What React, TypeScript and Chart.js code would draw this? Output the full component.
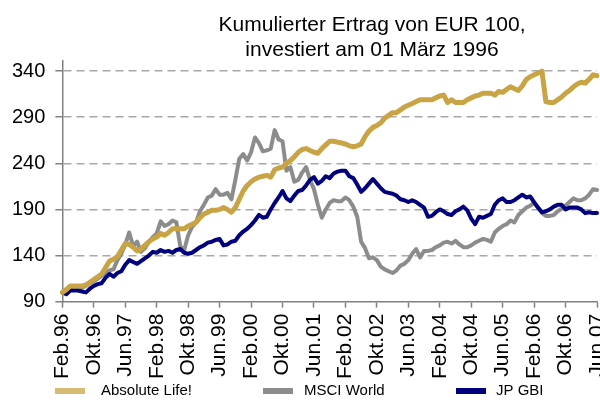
import React, { useEffect, useRef } from 'react';
import { Chart, registerables } from 'chart.js';

Chart.register(...registerables);

const MONTHS = ['Jan', 'Feb', 'Mär', 'Apr', 'Mai', 'Jun', 'Jul', 'Aug', 'Sep', 'Okt', 'Nov', 'Dez'];
const START_MONTH = 1; // Feb
const START_YEAR = 1996;
const LABEL_EVERY = 8;

const titleLines = ['Kumulierter Ertrag von EUR 100,', 'investiert am 01 März 1996'];
const seriesNames = ['Absolute Life!', 'MSCI World', 'JP GBI'];
const yTicks = [90, 140, 190, 240, 290, 340];

const absoluteLife = [
  100, 103, 107, 107, 107, 107, 108, 111, 114, 117,
  120, 127, 134, 136, 139, 146, 153, 152, 149, 145,
  147, 151, 155, 158, 160, 164, 162, 165, 169, 169,
  169, 169, 172, 174, 176, 181, 185, 187, 189, 189,
  190, 192, 190, 187, 192, 201, 210, 216, 220, 223,
  225, 226, 227, 225, 233, 235, 236, 240, 243, 247,
  252, 255, 256, 254, 252, 251, 256, 260, 264, 264,
  263, 262, 261, 259, 258, 259, 261, 269, 275, 279,
  281, 284, 289, 292, 295, 295, 298, 301, 303, 305,
  307, 309, 309, 309, 309, 311, 313, 314, 306, 309,
  306, 306, 306, 309, 311, 313, 314, 316, 316, 316,
  314, 318, 317, 320, 323, 321, 319, 324, 331, 334,
  336, 338, 340, 307, 306, 306, 309, 312, 316, 319,
  323, 326, 328, 327, 331, 336, 335,
];

const msciWorld = [
  100, 102, 105, 106, 106, 105, 107, 110, 112, 115,
  118, 121, 124, 125, 135, 142, 152, 165, 150, 155,
  144, 148, 155, 160, 164, 177, 172, 174, 178, 176,
  150, 146, 162, 171, 176, 188, 195, 203, 205, 212,
  206, 206, 208, 201, 222, 245, 250, 243, 252, 268,
  262, 253, 254, 256, 276, 266, 264, 232, 236, 220,
  222, 230, 236, 222, 212, 195, 181, 190, 197, 200,
  199, 199, 203, 200, 193, 182, 155, 148, 137, 138,
  135, 128, 125, 123, 121, 124, 129, 131, 135, 142,
  147, 138, 145, 145, 146, 149, 151, 154, 155, 153,
  156, 152, 149, 149, 151, 154, 156, 158, 157, 155,
  165, 169, 172, 174, 178, 176, 184, 188, 192, 194,
  197, 192, 186, 183, 183, 184, 188, 191, 194, 198,
  202, 200, 200, 202, 206, 212, 211,
];

const jpGbi = [
  100, 98, 102, 102, 102, 101, 100, 104, 107, 109,
  110, 116, 120, 117, 121, 123, 130, 135, 133, 131,
  134, 137, 140, 144, 143, 146, 144, 145, 143, 146,
  147, 143, 142, 143, 146, 149, 151, 154, 155, 157,
  158, 151, 152, 155, 156, 162, 166, 169, 173, 178,
  184, 181, 182, 190, 197, 203, 210, 202, 199, 205,
  210, 211, 216, 222, 225, 218, 221, 226, 224, 229,
  231, 232, 232, 226, 224, 217, 209, 213, 218, 223,
  218, 213, 209, 208, 207, 205, 201, 200, 198, 200,
  198, 195, 192, 182, 183, 187, 190, 188, 185, 184,
  188, 190, 193, 189, 180, 174, 182, 181, 183, 185,
  195, 200, 202, 198, 198, 200, 203, 206, 203, 204,
  198, 192, 187, 188, 190, 193, 195, 195, 190, 192,
  192, 192, 190, 186, 187, 186, 186,
];

const categories = absoluteLife.map((_, i) => {
  const k = START_MONTH + i;
  const m = k % 12;
  const y = START_YEAR + Math.floor(k / 12);
  return `${MONTHS[m]}.${String(y % 100).padStart(2, '0')}`;
});

const FONT = '"Liberation Sans", Arial, sans-serif';
const lineColors = ['#C9A445', '#8C8C8C', '#00007F'];
const legendColors = ['#D7BB72', '#8C8C8C', '#00007F'];
const lineWidths = [5, 4, 4];
const drawOrder = [0, 2, 1];
const legendPos = [
  { bx: 55, tx: 101 },
  { bx: 263, tx: 304 },
  { bx: 456, tx: 496 },
];

const overlayPlugin = {
  id: 'overlay',
  afterDraw(chart: any) {
    const ctx = chart.ctx;
    ctx.save();
    ctx.fillStyle = '#000';
    ctx.font = `21px ${FONT}`;
    ctx.textAlign = 'center';
    ctx.textBaseline = 'alphabetic';
    titleLines.forEach((t, i) => ctx.fillText(t, 372, 31 + i * 25));

    ctx.font = `15px ${FONT}`;
    ctx.textAlign = 'left';
    ctx.textBaseline = 'middle';
    const ly = 391;
    seriesNames.forEach((name, i) => {
      const p = legendPos[i];
      ctx.fillStyle = legendColors[i];
      ctx.fillRect(p.bx, ly - 3, 30, 6);
      ctx.fillStyle = '#000';
      ctx.fillText(name, p.tx, ly);
    });
    ctx.restore();
  },
};

export default function App() {
  const ref = useRef<HTMLCanvasElement | null>(null);

  useEffect(() => {
    if (!ref.current) return;
    const seriesData = [absoluteLife, msciWorld, jpGbi];
    const chart = new Chart(ref.current, {
      type: 'line',
      data: {
        labels: categories,
        datasets: seriesNames.map((name, i) => ({
          label: name,
          data: seriesData[i],
          borderColor: lineColors[i],
          backgroundColor: lineColors[i],
          borderWidth: lineWidths[i],
          pointRadius: 0,
          tension: 0,
          fill: false,
          order: drawOrder[i],
          borderJoinStyle: 'round' as const,
          borderCapStyle: 'round' as const,
        })),
      },
      options: {
        responsive: false,
        animation: false,
        layout: { padding: { left: 2, right: 0, top: 61, bottom: 16 } },
        plugins: {
          legend: { display: false },
          title: { display: false },
          tooltip: { enabled: false },
        },
        scales: {
          x: {
            type: 'category',
            offset: false,
            grid: {
              display: true,
              drawOnChartArea: false,
              drawTicks: true,
              tickLength: 6,
              tickColor: '#808080',
              tickWidth: 1.5,
            },
            border: { display: true, color: '#808080', width: 1.5 },
            ticks: {
              autoSkip: false,
              minRotation: 90,
              maxRotation: 90,
              padding: 6,
              color: '#000',
              font: { family: FONT, size: 21 },
            },
            afterBuildTicks: (axis: any) => {
              axis.ticks = axis.ticks.filter((t: any) => t.value % LABEL_EVERY === 0);
            },
            afterFit: (scale: any) => {
              scale.paddingRight = 3;
            },
          },
          y: {
            type: 'linear',
            min: 90,
            max: 351,
            afterBuildTicks: (axis: any) => {
              axis.ticks = yTicks.map((v) => ({ value: v }));
            },
            grid: {
              color: (c: any) => (c.tick && c.tick.value === 90 ? 'rgba(0,0,0,0)' : '#A8A8A8'),
              lineWidth: 1.5,
              drawTicks: true,
              tickLength: 7,
              tickColor: '#808080',
              tickWidth: 1.5,
              tickBorderDash: [],
            },
            border: { display: true, color: '#808080', width: 1.5, dash: [8, 5] },
            ticks: {
              padding: 10,
              color: '#000',
              font: { family: FONT, size: 20 },
            },
          },
        },
      },
      plugins: [overlayPlugin],
    });
    return () => chart.destroy();
  }, []);

  return (
    <div style={{ position: 'fixed', left: 0, top: 0, width: 600, height: 401, background: '#fff' }}>
      <canvas ref={ref} width={600} height={401} style={{ display: 'block' }} />
    </div>
  );
}
